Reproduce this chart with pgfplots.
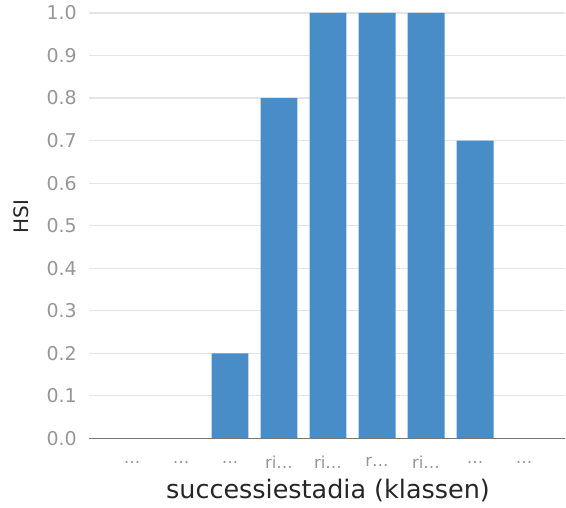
\documentclass[border=0pt]{standalone}
\usepackage{fontspec}
\setmainfont{DejaVu Sans}
\usepackage{pgfplots}
\pgfplotsset{compat=1.18}
\definecolor{barblue}{RGB}{72,141,200}
\definecolor{tickgray}{RGB}{150,150,150}
\definecolor{gridgray}{RGB}{228,228,228}
\definecolor{basegray}{RGB}{120,120,120}
\begin{document}
\begin{tikzpicture}
\begin{axis}[
  at={(0,0)}, anchor=south west,
  scale only axis, width=477pt, height=426pt,
  xmin=-0.88, xmax=8.84, ymin=0, ymax=1,
  ybar, bar width=37pt,
  axis line style={draw=none},
  major tick length=0pt,
  xtick={0,1,2,3,4,5,6,7,8},
  xticklabels={…,…,…,ri…,ri…,r…,ri…,…,…},
  ytick={0,0.1,0.2,0.3,0.4,0.5,0.6,0.7,0.8,0.9,1.0},
  yticklabel style={/pgf/number format/.cd,fixed,fixed zerofill,precision=1,/tikz/.cd, font=\fontsize{19}{22}\selectfont, text=tickgray, anchor=east, inner sep=0pt, xshift=-12pt},
  xticklabel style={font=\fontsize{16.5}{20}\selectfont, text=tickgray, anchor=center, yshift=-24pt, inner sep=0pt},
  /pgf/number format/assume math mode=true,
  ymajorgrids, grid style={gridgray, line width=1.2pt},
  xlabel={successiestadia (klassen)},
  ylabel={HSI},
  xlabel style={font=\fontsize{25.5}{28}\selectfont, text=black!85, at={(axis description cs:0.502,-0.122)}, anchor=center},
  ylabel style={font=\fontsize{20}{24}\selectfont, text=black!85, at={(axis description cs:-0.141,0.521)}, anchor=center},
  clip=false,
]
\addplot[fill=barblue, draw=none] coordinates {(0,0) (1,0) (2,0.2) (3,0.8) (4,1.0) (5,1.0) (6,1.0) (7,0.7) (8,0)};
\draw[basegray, line width=1.6pt] (rel axis cs:0,0) -- (rel axis cs:1,0);
\end{axis}
\path[use as bounding box] (-89pt,-69pt) rectangle (477pt,439pt);
\end{tikzpicture}
\end{document}
